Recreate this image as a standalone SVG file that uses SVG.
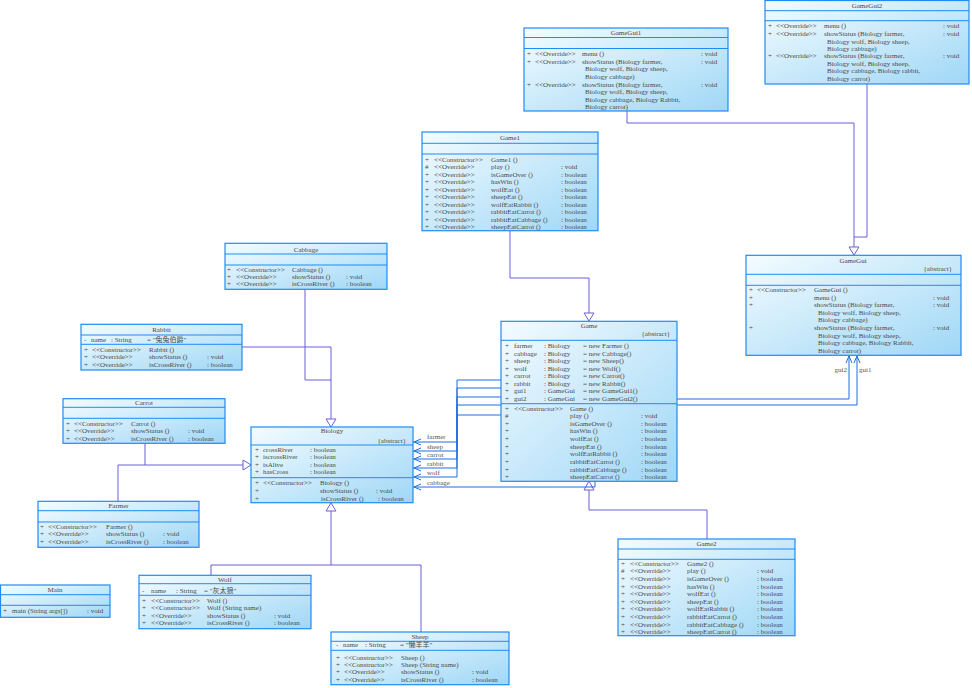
<svg xmlns="http://www.w3.org/2000/svg" width="972" height="688" viewBox="0 0 972 688">
<defs>
<linearGradient id="bg" x1="0" y1="0" x2="1" y2="1">
<stop offset="0" stop-color="#f4fcff"/>
<stop offset="1" stop-color="#9fd7f6"/>
</linearGradient>
<style>
.box{fill:url(#bg);stroke:#1f8bf5;stroke-width:1.2}
.dv{stroke:#1f8bf5;stroke-width:1}
text{font-family:"Liberation Serif","Noto Sans CJK SC",serif;font-size:7px;fill:#4a4a4a}
.t{fill:#5c3c3c;text-anchor:middle}
.e{text-anchor:end}
.inh{fill:none;stroke:#6a5fd8;stroke-width:1}
.tri{fill:#ffffff;stroke:#6a5fd8;stroke-width:1}
.asc{fill:none;stroke:#1d6fe5;stroke-width:1}
.lb{fill:#555}
</style>
</defs>
<rect width="972" height="688" fill="#ffffff"/>

<g id="connectors">
<polyline class="inh" points="627,111 627,123 854,123 854,247"/>
<polyline class="inh" points="867,84 867,237 854,237"/>
<polygon class="tri" points="854,255 849,247 859,247"/>
<polyline class="inh" points="510,231 510,278 589,278 589,313"/>
<polygon class="tri" points="589,321 584,313 594,313"/>
<polyline class="inh" points="707,539 707,510 589,510 589,490"/>
<polygon class="tri" points="589,481 584,490 594,490"/>
<polyline class="inh" points="305,289 305,380 331,380"/>
<polyline class="inh" points="242,347 331,347 331,419"/>
<polygon class="tri" points="331,427 326,419 336,419"/>
<polyline class="inh" points="145,443 145,465 243,465"/>
<polyline class="inh" points="118,501 118,465 145,465"/>
<polygon class="tri" points="251,465 243,460 243,470"/>
<polyline class="inh" points="211,575 211,565 331,565 331,511"/>
<polyline class="inh" points="421,632 421,565 331,565"/>
<polygon class="tri" points="331,503 326,511 336,511"/>
<polyline class="asc" points="501,380 457,380 457,442 413,442"/>
<polyline class="asc" points="501,388 457,388 457,451 413,451"/>
<polyline class="asc" points="501,397 457,397 457,459 413,459"/>
<polyline class="asc" points="501,405 457,405 457,468 413,468"/>
<polyline class="asc" points="501,415 457,415 457,477 413,477"/>
<polyline class="asc" points="595,481 595,487 413,487"/>
<polyline class="asc" points="421,439 414,442 421,445"/>
<polyline class="asc" points="421,448 414,451 421,454"/>
<polyline class="asc" points="421,456 414,459 421,462"/>
<polyline class="asc" points="421,465 414,468 421,471"/>
<polyline class="asc" points="421,474 414,477 421,480"/>
<polyline class="asc" points="421,484 414,487 421,490"/>
<text class="lb" x="427" y="439">farmer</text>
<text class="lb" x="427" y="449">sheep</text>
<text class="lb" x="427" y="457">carrot</text>
<text class="lb" x="427" y="466">rabbit</text>
<text class="lb" x="427" y="475">wolf</text>
<text class="lb" x="427" y="485">cabbage</text>
<polyline class="asc" points="677,399 849,399 849,356"/>
<polyline class="asc" points="677,405 857,405 857,356"/>
<polyline class="asc" points="846,363 849,356 852,363"/>
<polyline class="asc" points="854,363 857,356 860,363"/>
<text class="lb e" x="847" y="372">gui2</text>
<text class="lb" x="859" y="372">gui1</text>
</g>

<g id="GameGui1">
<rect class="box" x="524" y="28" width="204" height="83"/>
<line class="dv" x1="524" y1="37.5" x2="728" y2="37.5"/>
<line class="dv" x1="524" y1="48.5" x2="728" y2="48.5"/>
<text class="t" x="626" y="35">GameGui1</text>
<text x="527" y="55.5">+</text><text x="535" y="55.5">&lt;&lt;Override&gt;&gt;</text><text x="582" y="55.5">menu ()</text><text x="701" y="55.5">: void</text>
<text x="527" y="63.5">+</text><text x="535" y="63.5">&lt;&lt;Override&gt;&gt;</text><text x="582" y="63.5">showStatus (Biology farmer,</text><text x="701" y="63.5">: void</text>
<text x="585" y="71">Biology wolf, Biology sheep,</text>
<text x="585" y="79">Biology cabbage)</text>
<text x="527" y="86.5">+</text><text x="535" y="86.5">&lt;&lt;Override&gt;&gt;</text><text x="582" y="86.5">showStatus (Biology farmer,</text><text x="701" y="86.5">: void</text>
<text x="585" y="94">Biology wolf, Biology sheep,</text>
<text x="585" y="101.5">Biology cabbage, Biology Rabbit,</text>
<text x="585" y="108.5">Biology carrot)</text>
</g>

<g id="GameGui2">
<rect class="box" x="765" y="0.5" width="204" height="83.5"/>
<line class="dv" x1="765" y1="10.7" x2="969" y2="10.7"/>
<line class="dv" x1="765" y1="20.7" x2="969" y2="20.7"/>
<text class="t" x="867" y="7.5">GameGui2</text>
<text x="768" y="27.5">+</text><text x="776" y="27.5">&lt;&lt;Override&gt;&gt;</text><text x="824" y="27.5">menu ()</text><text x="943" y="27.5">: void</text>
<text x="768" y="35.8">+</text><text x="776" y="35.8">&lt;&lt;Override&gt;&gt;</text><text x="824" y="35.8">showStatus (Biology farmer,</text><text x="943" y="35.8">: void</text>
<text x="827" y="43.5">Biology wolf, Biology sheep,</text>
<text x="827" y="51.2">Biology cabbage)</text>
<text x="768" y="58.2">+</text><text x="776" y="58.2">&lt;&lt;Override&gt;&gt;</text><text x="824" y="58.2">showStatus (Biology farmer,</text><text x="943" y="58.2">: void</text>
<text x="827" y="65.8">Biology wolf, Biology sheep,</text>
<text x="827" y="73.2">Biology cabbage, Biology rabbit,</text>
<text x="827" y="81.2">Biology carrot)</text>
</g>

<g id="Game1">
<rect class="box" x="422" y="132" width="176" height="98.7"/>
<line class="dv" x1="422" y1="143.3" x2="598" y2="143.3"/>
<line class="dv" x1="422" y1="154" x2="598" y2="154"/>
<text class="t" x="510" y="139.8">Game1</text>
<text x="425" y="161.5">+</text><text x="434" y="161.5">&lt;&lt;Constructor&gt;&gt;</text><text x="491" y="161.5">Game1 ()</text>
<text x="425" y="169">#</text><text x="434" y="169">&lt;&lt;Override&gt;&gt;</text><text x="491" y="169">play ()</text><text x="561" y="169">: void</text>
<text x="425" y="176.5">+</text><text x="434" y="176.5">&lt;&lt;Override&gt;&gt;</text><text x="491" y="176.5">isGameOver ()</text><text x="561" y="176.5">: boolean</text>
<text x="425" y="184.1">+</text><text x="434" y="184.1">&lt;&lt;Override&gt;&gt;</text><text x="491" y="184.1">hasWin ()</text><text x="561" y="184.1">: boolean</text>
<text x="425" y="191.6">+</text><text x="434" y="191.6">&lt;&lt;Override&gt;&gt;</text><text x="491" y="191.6">wolfEat ()</text><text x="561" y="191.6">: boolean</text>
<text x="425" y="199.1">+</text><text x="434" y="199.1">&lt;&lt;Override&gt;&gt;</text><text x="491" y="199.1">sheepEat ()</text><text x="561" y="199.1">: boolean</text>
<text x="425" y="206.6">+</text><text x="434" y="206.6">&lt;&lt;Override&gt;&gt;</text><text x="491" y="206.6">wolfEatRabbit ()</text><text x="561" y="206.6">: boolean</text>
<text x="425" y="214.1">+</text><text x="434" y="214.1">&lt;&lt;Override&gt;&gt;</text><text x="491" y="214.1">rabbitEatCarrot ()</text><text x="561" y="214.1">: boolean</text>
<text x="425" y="221.7">+</text><text x="434" y="221.7">&lt;&lt;Override&gt;&gt;</text><text x="491" y="221.7">rabbitEatCabbage ()</text><text x="561" y="221.7">: boolean</text>
<text x="425" y="229.2">+</text><text x="434" y="229.2">&lt;&lt;Override&gt;&gt;</text><text x="491" y="229.2">sheepEatCarrot ()</text><text x="561" y="229.2">: boolean</text>
</g>

<g id="Cabbage">
<rect class="box" x="225" y="243.3" width="162" height="46"/>
<line class="dv" x1="225" y1="254" x2="387" y2="254"/>
<line class="dv" x1="225" y1="265" x2="387" y2="265"/>
<text class="t" x="306" y="251.8">Cabbage</text>
<text x="227" y="271.8">+</text><text x="236" y="271.8">&lt;&lt;Constructor&gt;&gt;</text><text x="292" y="271.8">Cabbage ()</text>
<text x="227" y="278.8">+</text><text x="236" y="278.8">&lt;&lt;Override&gt;&gt;</text><text x="292" y="278.8">showStatus ()</text><text x="346" y="278.8">: void</text>
<text x="227" y="285.8">+</text><text x="236" y="285.8">&lt;&lt;Override&gt;&gt;</text><text x="292" y="285.8">isCrossRiver ()</text><text x="346" y="285.8">: boolean</text>
</g>

<g id="Rabbit">
<rect class="box" x="81" y="324.3" width="161" height="45.7"/>
<line class="dv" x1="81" y1="335" x2="242" y2="335"/>
<line class="dv" x1="81" y1="344.3" x2="242" y2="344.3"/>
<text class="t" x="161.5" y="331.8">Rabbit</text>
<text x="84" y="341.8">-</text><text x="91" y="341.8">name</text><text x="111" y="341.8">: String</text><text x="147" y="341.8">= "兔兔伯爵"</text>
<text x="84" y="351.8">+</text><text x="92" y="351.8">&lt;&lt;Constructor&gt;&gt;</text><text x="149" y="351.8">Rabbit ()</text>
<text x="84" y="359.3">+</text><text x="92" y="359.3">&lt;&lt;Override&gt;&gt;</text><text x="149" y="359.3">showStatus ()</text><text x="207" y="359.3">: void</text>
<text x="84" y="366.8">+</text><text x="92" y="366.8">&lt;&lt;Override&gt;&gt;</text><text x="149" y="366.8">isCrossRiver ()</text><text x="207" y="366.8">: boolean</text>
</g>

<g id="Carrot">
<rect class="box" x="63" y="398.7" width="162" height="44.6"/>
<line class="dv" x1="63" y1="407.3" x2="225" y2="407.3"/>
<line class="dv" x1="63" y1="418.3" x2="225" y2="418.3"/>
<text class="t" x="144" y="404.8">Carrot</text>
<text x="66" y="425.8">+</text><text x="74" y="425.8">&lt;&lt;Constructor&gt;&gt;</text><text x="131" y="425.8">Carrot ()</text>
<text x="66" y="433.2">+</text><text x="74" y="433.2">&lt;&lt;Override&gt;&gt;</text><text x="131" y="433.2">showStatus ()</text><text x="188" y="433.2">: void</text>
<text x="66" y="440.5">+</text><text x="74" y="440.5">&lt;&lt;Override&gt;&gt;</text><text x="131" y="440.5">isCrossRiver ()</text><text x="188" y="440.5">: boolean</text>
</g>

<g id="Biology">
<rect class="box" x="251" y="427" width="162" height="75.7"/>
<line class="dv" x1="251" y1="445" x2="413" y2="445"/>
<line class="dv" x1="251" y1="477.7" x2="413" y2="477.7"/>
<text class="t" x="332" y="433.2">Biology</text>
<text class="e" x="406" y="442.5">{abstract}</text>
<text x="255" y="451.8">+</text><text x="263" y="451.8">crossRiver</text><text x="310" y="451.8">: boolean</text>
<text x="255" y="459.3">+</text><text x="263" y="459.3">iscrossRiver</text><text x="310" y="459.3">: boolean</text>
<text x="255" y="466.8">+</text><text x="263" y="466.8">isAlive</text><text x="310" y="466.8">: boolean</text>
<text x="255" y="474.3">+</text><text x="263" y="474.3">hasCross</text><text x="310" y="474.3">: boolean</text>
<text x="255" y="484.5">+</text><text x="263" y="484.5">&lt;&lt;Constructor&gt;&gt;</text><text x="320" y="484.5">Biology ()</text>
<text x="255" y="493.2">+</text><text x="320" y="493.2">showStatus ()</text><text x="376" y="493.2">: void</text>
<text x="255" y="501">+</text><text x="321" y="501">isCrossRiver ()</text><text x="378" y="501">: boolean</text>
</g>

<g id="Game">
<rect class="box" x="501" y="321.3" width="176" height="160"/>
<line class="dv" x1="501" y1="340.3" x2="677" y2="340.3"/>
<line class="dv" x1="501" y1="403.7" x2="677" y2="403.7"/>
<text class="t" x="589" y="327.8">Game</text>
<text class="e" x="670" y="336.2">{abstract}</text>
<text x="505" y="348.2">+</text><text x="514" y="348.2">farmer</text><text x="544" y="348.2">: Biology</text><text x="583" y="348.2">= new Farmer ()</text>
<text x="505" y="355.7">+</text><text x="514" y="355.7">cabbage</text><text x="544" y="355.7">: Biology</text><text x="583" y="355.7">= new Cabbage()</text>
<text x="505" y="363.2">+</text><text x="514" y="363.2">sheep</text><text x="544" y="363.2">: Biology</text><text x="583" y="363.2">= new Sheep()</text>
<text x="505" y="370.7">+</text><text x="514" y="370.7">wolf</text><text x="544" y="370.7">: Biology</text><text x="583" y="370.7">= new Wolf()</text>
<text x="505" y="378.2">+</text><text x="514" y="378.2">carrot</text><text x="544" y="378.2">: Biology</text><text x="583" y="378.2">= new Carrot()</text>
<text x="505" y="385.7">+</text><text x="514" y="385.7">rabbit</text><text x="544" y="385.7">: Biology</text><text x="583" y="385.7">= new Rabbit()</text>
<text x="505" y="393.2">+</text><text x="514" y="393.2">gui1</text><text x="544" y="393.2">: GameGui</text><text x="583" y="393.2">= new GameGui1()</text>
<text x="505" y="400.7">+</text><text x="514" y="400.7">gui2</text><text x="544" y="400.7">: GameGui</text><text x="583" y="400.7">= new GameGui2()</text>
<text x="505" y="410.5">+</text><text x="514" y="410.5">&lt;&lt;Constructor&gt;&gt;</text><text x="570" y="410.5">Game ()</text>
<text x="505" y="418.1">#</text><text x="570" y="418.1">play ()</text><text x="641" y="418.1">: void</text>
<text x="505" y="425.8">+</text><text x="570" y="425.8">isGameOver ()</text><text x="641" y="425.8">: boolean</text>
<text x="505" y="433.4">+</text><text x="570" y="433.4">hasWin ()</text><text x="641" y="433.4">: boolean</text>
<text x="505" y="441">+</text><text x="570" y="441">wolfEat ()</text><text x="641" y="441">: boolean</text>
<text x="505" y="448.7">+</text><text x="570" y="448.7">sheepEat ()</text><text x="641" y="448.7">: boolean</text>
<text x="505" y="456.3">+</text><text x="570" y="456.3">wolfEatRabbit ()</text><text x="641" y="456.3">: boolean</text>
<text x="505" y="463.9">+</text><text x="570" y="463.9">rabbitEatCarrot ()</text><text x="641" y="463.9">: boolean</text>
<text x="505" y="471.5">+</text><text x="570" y="471.5">rabbitEatCabbage ()</text><text x="641" y="471.5">: boolean</text>
<text x="505" y="479.2">+</text><text x="570" y="479.2">sheepEatCarrot ()</text><text x="641" y="479.2">: boolean</text>
</g>

<g id="GameGui">
<rect class="box" x="746" y="255.3" width="215" height="100"/>
<line class="dv" x1="746" y1="274.3" x2="961" y2="274.3"/>
<line class="dv" x1="746" y1="285.3" x2="961" y2="285.3"/>
<text class="t" x="853" y="262.5">GameGui</text>
<text class="e" x="952" y="270.5">{abstract}</text>
<text x="749" y="292.2">+</text><text x="757" y="292.2">&lt;&lt;Constructor&gt;&gt;</text><text x="814" y="292.2">GameGui ()</text>
<text x="749" y="300.2">+</text><text x="814" y="300.2">menu ()</text><text x="933" y="300.2">: void</text>
<text x="749" y="307.2">+</text><text x="814" y="307.2">showStatus (Biology farmer,</text><text x="933" y="307.2">: void</text>
<text x="818" y="315.3">Biology wolf, Biology sheep,</text>
<text x="818" y="322.2">Biology cabbage)</text>
<text x="749" y="329.8">+</text><text x="814" y="329.8">showStatus (Biology farmer,</text><text x="933" y="329.8">: void</text>
<text x="818" y="337.8">Biology wolf, Biology sheep,</text>
<text x="818" y="345.2">Biology cabbage, Biology Rabbit,</text>
<text x="818" y="352.5">Biology carrot)</text>
</g>

<g id="Farmer">
<rect class="box" x="38" y="501.3" width="161" height="46"/>
<line class="dv" x1="38" y1="510.7" x2="199" y2="510.7"/>
<line class="dv" x1="38" y1="522" x2="199" y2="522"/>
<text class="t" x="118.5" y="507.8">Farmer</text>
<text x="40" y="528.8">+</text><text x="48" y="528.8">&lt;&lt;Constructor&gt;&gt;</text><text x="106" y="528.8">Farmer ()</text>
<text x="40" y="536.3">+</text><text x="48" y="536.3">&lt;&lt;Override&gt;&gt;</text><text x="106" y="536.3">showStatus ()</text><text x="163" y="536.3">: void</text>
<text x="40" y="543.8">+</text><text x="48" y="543.8">&lt;&lt;Override&gt;&gt;</text><text x="106" y="543.8">isCrossRiver ()</text><text x="163" y="543.8">: boolean</text>
</g>

<g id="Main">
<rect class="box" x="0.5" y="585" width="109.5" height="32.3"/>
<line class="dv" x1="0.5" y1="594.7" x2="110" y2="594.7"/>
<line class="dv" x1="0.5" y1="605.3" x2="110" y2="605.3"/>
<text class="t" x="55" y="591.5">Main</text>
<text x="3" y="612.5">+</text><text x="12" y="612.5">main (String args[])</text><text x="87" y="612.5">: void</text>
</g>

<g id="Wolf">
<rect class="box" x="139" y="575.3" width="172" height="53.4"/>
<line class="dv" x1="139" y1="583.7" x2="311" y2="583.7"/>
<line class="dv" x1="139" y1="595.3" x2="311" y2="595.3"/>
<text class="t" x="225" y="581.8">Wolf</text>
<text x="142" y="593.2">-</text><text x="151" y="593.2">name</text><text x="176" y="593.2">: String</text><text x="204" y="593.2">= "灰太狼"</text>
<text x="142" y="602.5">+</text><text x="151" y="602.5">&lt;&lt;Constructor&gt;&gt;</text><text x="207" y="602.5">Wolf ()</text>
<text x="142" y="610.1">+</text><text x="151" y="610.1">&lt;&lt;Constructor&gt;&gt;</text><text x="207" y="610.1">Wolf (String name)</text>
<text x="142" y="617.7">+</text><text x="151" y="617.7">&lt;&lt;Override&gt;&gt;</text><text x="207" y="617.7">showStatus ()</text><text x="274" y="617.7">: void</text>
<text x="142" y="625.3">+</text><text x="151" y="625.3">&lt;&lt;Override&gt;&gt;</text><text x="207" y="625.3">isCrossRiver ()</text><text x="274" y="625.3">: boolean</text>
</g>

<g id="Sheep">
<rect class="box" x="331" y="632" width="178" height="52.7"/>
<line class="dv" x1="331" y1="641.3" x2="509" y2="641.3"/>
<line class="dv" x1="331" y1="650.3" x2="509" y2="650.3"/>
<text class="t" x="420" y="638.8">Sheep</text>
<text x="336" y="647.4">-</text><text x="343" y="647.4">name</text><text x="365" y="647.4">: String</text><text x="400" y="647.4">= "懒羊羊"</text>
<text x="336" y="659.5">+</text><text x="344" y="659.5">&lt;&lt;Constructor&gt;&gt;</text><text x="401" y="659.5">Sheep ()</text>
<text x="336" y="667.2">+</text><text x="344" y="667.2">&lt;&lt;Constructor&gt;&gt;</text><text x="401" y="667.2">Sheep (String name)</text>
<text x="336" y="674.4">+</text><text x="344" y="674.4">&lt;&lt;Override&gt;&gt;</text><text x="401" y="674.4">showStatus ()</text><text x="472" y="674.4">: void</text>
<text x="336" y="682.2">+</text><text x="344" y="682.2">&lt;&lt;Override&gt;&gt;</text><text x="401" y="682.2">isCrossRiver ()</text><text x="472" y="682.2">: boolean</text>
</g>

<g id="Game2">
<rect class="box" x="618" y="539" width="177" height="96.7"/>
<line class="dv" x1="618" y1="549" x2="795" y2="549"/>
<line class="dv" x1="618" y1="559.3" x2="795" y2="559.3"/>
<text class="t" x="706.5" y="545.8">Game2</text>
<text x="621" y="565.8">+</text><text x="630" y="565.8">&lt;&lt;Constructor&gt;&gt;</text><text x="687" y="565.8">Game2 ()</text>
<text x="621" y="573.4">#</text><text x="630" y="573.4">&lt;&lt;Override&gt;&gt;</text><text x="687" y="573.4">play ()</text><text x="757" y="573.4">: void</text>
<text x="621" y="581">+</text><text x="630" y="581">&lt;&lt;Override&gt;&gt;</text><text x="687" y="581">isGameOver ()</text><text x="757" y="581">: boolean</text>
<text x="621" y="588.6">+</text><text x="630" y="588.6">&lt;&lt;Override&gt;&gt;</text><text x="687" y="588.6">hasWin ()</text><text x="757" y="588.6">: boolean</text>
<text x="621" y="596.2">+</text><text x="630" y="596.2">&lt;&lt;Override&gt;&gt;</text><text x="687" y="596.2">wolfEat ()</text><text x="757" y="596.2">: boolean</text>
<text x="621" y="603.8">+</text><text x="630" y="603.8">&lt;&lt;Override&gt;&gt;</text><text x="687" y="603.8">sheepEat ()</text><text x="757" y="603.8">: boolean</text>
<text x="621" y="611.4">+</text><text x="630" y="611.4">&lt;&lt;Override&gt;&gt;</text><text x="687" y="611.4">wolfEatRabbit ()</text><text x="757" y="611.4">: boolean</text>
<text x="621" y="619">+</text><text x="630" y="619">&lt;&lt;Override&gt;&gt;</text><text x="687" y="619">rabbitEatCarrot ()</text><text x="757" y="619">: boolean</text>
<text x="621" y="626.6">+</text><text x="630" y="626.6">&lt;&lt;Override&gt;&gt;</text><text x="687" y="626.6">rabbitEatCabbage ()</text><text x="757" y="626.6">: boolean</text>
<text x="621" y="634.2">+</text><text x="630" y="634.2">&lt;&lt;Override&gt;&gt;</text><text x="687" y="634.2">sheepEatCarrot ()</text><text x="757" y="634.2">: boolean</text>
</g>
</svg>
